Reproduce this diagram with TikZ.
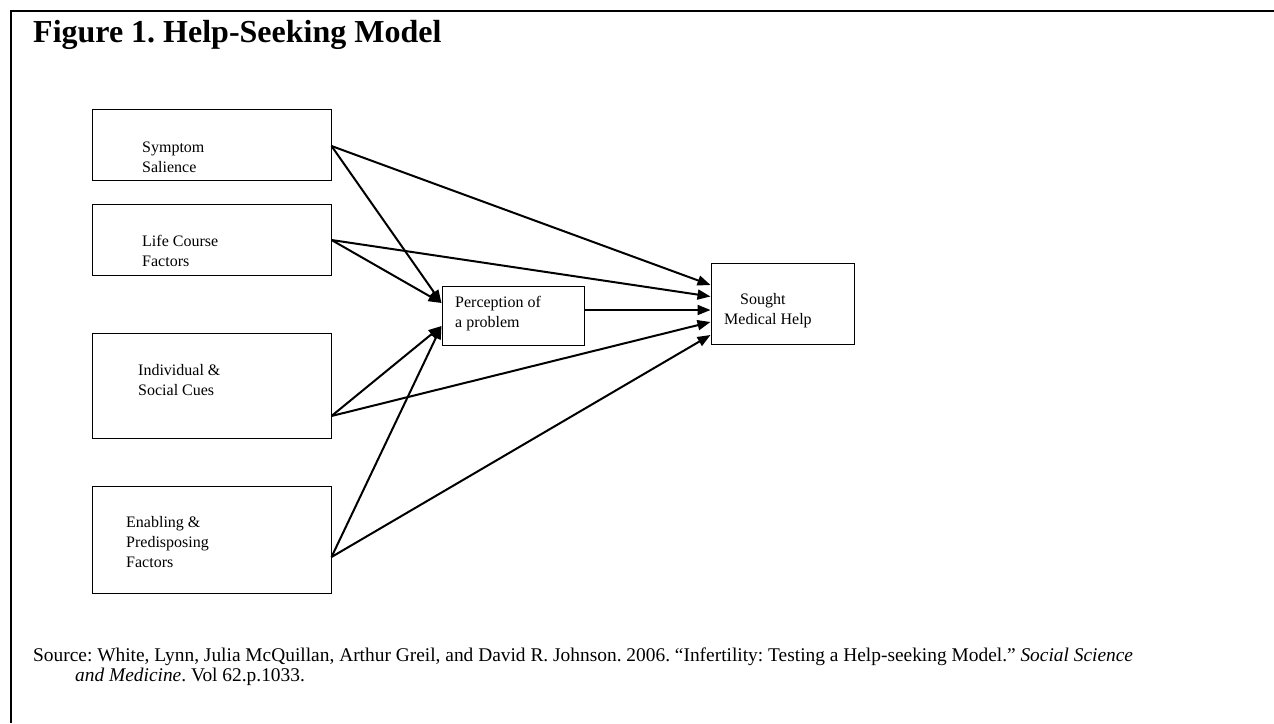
\documentclass[tikz,border=0pt]{standalone}
\usepackage{fontspec}
\setmainfont{Liberation Serif}
\usetikzlibrary{arrows.meta}
\frenchspacing
\tikzset{
  box/.style={draw, line width=1pt, inner sep=0pt, rectangle},
  txt/.style={anchor=base west, inner sep=0pt, font=\fontsize{16}{20}\selectfont},
  conn/.style={line width=2pt, -{Triangle[length=13pt,width=10pt]}},
  srctxt/.style={anchor=base west, inner sep=0pt, font=\fontsize{19.4}{22}\selectfont},
}
\begin{document}
\begin{tikzpicture}[x=1pt,y=-1pt]
\useasboundingbox (0,0) rectangle (1274,723);
% frame
\draw[line width=2pt] (11,723) -- (11,11) -- (1274,11);
% title
\node[anchor=base west, inner sep=0pt, font=\fontsize{32}{38}\selectfont\bfseries] (title) at (33,42) {Figure 1. Help-Seeking Model};
% boxes
\node[box, minimum width=239, minimum height=71] (sym) at (211.5,144.5) {};
\node[box, minimum width=239, minimum height=71] (life) at (211.5,239.5) {};
\node[box, minimum width=239, minimum height=105] (ind) at (211.5,385.5) {};
\node[box, minimum width=239, minimum height=107] (enab) at (211.5,539.5) {};
\node[box, minimum width=142, minimum height=59] (perc) at (513,316) {};
\node[box, minimum width=143, minimum height=81] (help) at (782.5,303.5) {};
% texts
\node[txt] (symt) at (142,152) {\begin{tabular}[t]{@{}l@{}}Symptom\\Salience\end{tabular}};
\node[txt] (lifet) at (142,246) {\begin{tabular}[t]{@{}l@{}}Life Course\\Factors\end{tabular}};
\node[txt] (indt) at (138,375) {\begin{tabular}[t]{@{}l@{}}Individual \&\\Social Cues\end{tabular}};
\node[txt] (enabt) at (126,527) {\begin{tabular}[t]{@{}l@{}}Enabling \&\\Predisposing\\Factors\end{tabular}};
\node[txt] (perct) at (455,307) {\begin{tabular}[t]{@{}l@{}}Perception of\\a problem\end{tabular}};
\node[txt] (helpt) at (724,304) {\begin{tabular}[t]{@{}l@{}}\hspace{16pt}Sought\\Medical Help\end{tabular}};
% connectors
\draw[conn] ([yshift=-1.5]sym.east) -- ([yshift=13]perc.west);
\draw[conn] ([yshift=-0.5]life.east) -- ([yshift=13]perc.west);
\draw[conn] ([yshift=-30.5]ind.east) -- ([yshift=-10]perc.west);
\draw[conn] ([yshift=-17.5]enab.east) -- ([yshift=-10]perc.west);
\draw[conn] ([yshift=-1.5]sym.east) -- ([yshift=18.5]help.west);
\draw[conn] ([yshift=-0.5]life.east) -- ([yshift=7]help.west);
\draw[conn] ([yshift=6]perc.east) -- ([yshift=-6.5]help.west);
\draw[conn] ([yshift=-30.5]ind.east) -- ([yshift=-18.5]help.west);
\draw[conn] ([yshift=-17.5]enab.east) -- ([yshift=-31.5]help.west);
% source
\node[srctxt] (src1) at (33,661) {Source: White, Lynn, Julia McQuillan, Arthur Greil, and David R. Johnson. 2006. ``Infertility: Testing a Help-seeking Model.'' \textit{Social Science}};
\node[srctxt] (src2) at (75,681) {\textit{and Medicine}. Vol 62.p.1033.};
\end{tikzpicture}
\end{document}
